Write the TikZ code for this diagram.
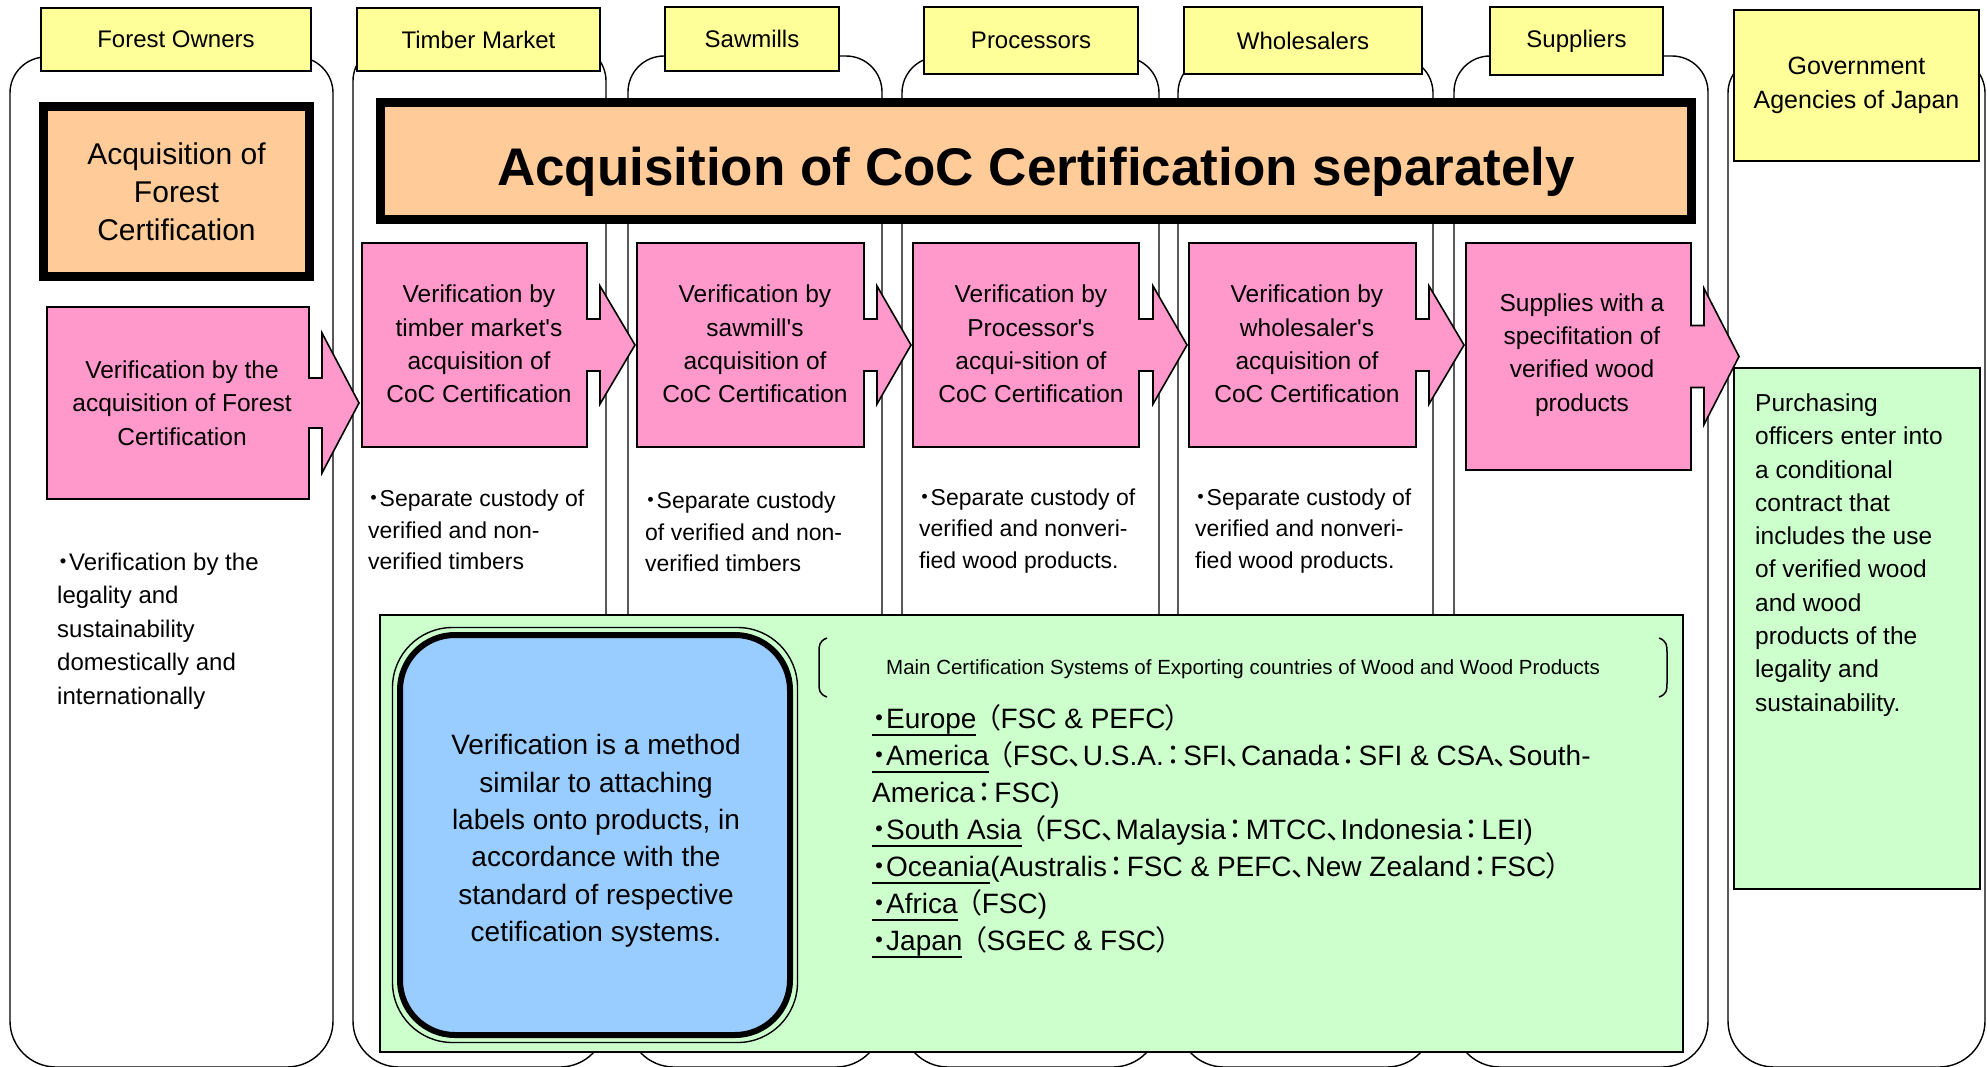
\documentclass[tikz,border=0pt]{standalone}
\usepackage{fontspec}
\setmainfont{Liberation Sans}
\newfontfamily\cjk[RawFeature=+palt]{Noto Sans CJK JP}
\usetikzlibrary{calc}
\definecolor{coYellow}{HTML}{FFFF99}
\definecolor{coPeach}{HTML}{FFCC99}
\definecolor{coPink}{HTML}{FF99CC}
\definecolor{coMint}{HTML}{CCFFCC}
\definecolor{coSky}{HTML}{99CCFF}

% Japanese punctuation, proportional like the original
\newcommand{\jdot}{{\cjk ・}}
\newcommand{\jlp}{\hspace{0.36em}{\cjk （}}
\newcommand{\jrp}{{\cjk ）}}
\newcommand{\jcm}{{\cjk 、}}
\newcommand{\jco}{\hspace{0.1em}{\cjk ：}\hspace{0.1em}}
\newcommand{\regn}[1]{\setbox0\hbox{#1}\rlap{\rule[-7.5pt]{\wd0}{1.8pt}}\box0}

\begin{document}
\begin{tikzpicture}[
  x=1pt,y=-1pt,
  lane/.style={draw=black, line width=1.4pt, fill=white},
  header/.style={draw=black, line width=1.6pt, fill=coYellow, inner sep=0pt,
                 font=\fontsize{24}{30}\selectfont, align=center},
  certbox/.style={draw=black, line width=9pt, fill=coPeach, inner sep=0pt,
                  align=center},
  callout/.style={draw=black, line width=1.6pt, fill=coPink},
  pinktext/.style={font=\fontsize{24.5}{33.3}\selectfont, align=center},
  note/.style={anchor=west, inner sep=0pt, align=left},
  greenbox/.style={draw=black, line width=1.8pt, fill=coMint, inner sep=0pt},
]
  \path[use as bounding box] (0,0) rectangle (1987,1066);
  \clip (0,0) rectangle (1987,1066);

  % Lanes: one rounded column per actor of the chain.
  \foreach \l/\r/\t in {10/333/57,353/606/45,628/882/56,902/1159/57,
                        1178/1433/57,1454/1708/56,1728/1985/57} {
    \draw[lane] (\l,600) [rounded corners=36pt] -- (\l,\t) -- (\r,\t) --
      (\r,600) [rounded corners=46pt] -- (\r,1067) -- (\l,1067) -- cycle;
  }

  \foreach \nm/\x/\y/\w/\h/\txt in {owners/176/39.5/270/63/Forest Owners,
      market/478.5/39.5/243/63/Timber Market,mills/752/39/174/64/Sawmills,
      procs/1031/40.5/214/67/Processors,whole/1303/40.5/238/67/Wholesalers,
      supp/1576.5/41/173/68/Suppliers} {
    \node[header, minimum width=\w pt, minimum height=\h pt] (\nm) at (\x,\y) {\txt};
  }
  \node[header, minimum width=245pt, minimum height=151pt,
        font=\fontsize{25}{34}\selectfont] (gov) at (1856.5,85.5)
    {Government\\Agencies of Japan};

  % Certification banners
  \node[certbox, minimum width=1311pt, minimum height=117pt,
        font=\fontsize{53}{60}\selectfont\bfseries] (coc) at (1036,161)
    {\raisebox{-24pt}[0pt][0pt]{Acquisition of CoC Certification separately}};
  \node[certbox, minimum width=266pt, minimum height=170pt,
        font=\fontsize{30}{38}\selectfont] (forestcert) at (176.5,191.5)
    {Acquisition of\\Forest\\Certification};

  % Verification steps: boxes with an arrow on the right side.
  \foreach \xa/\xb/\ya/\yb/\sa/\ha/\xs/\xt in {47/309/307/499/25/70/322/359,
      362/587/243/447/26/59/600/635,637/864/243/447/26/59/877/911,
      913/1139/243/447/26/59/1153/1187,1189/1416/243/447/26/59/1429/1464,
      1466/1691/243/470/31/68/1704/1739} {
    \pgfmathsetmacro{\ym}{(\ya+\yb)/2}
    \draw[callout] (\xa,\ya) -- (\xb,\ya) -- (\xb,\ym-\sa) -- (\xs,\ym-\sa) --
      (\xs,\ym-\ha) -- (\xt,\ym) -- (\xs,\ym+\ha) -- (\xs,\ym+\sa) --
      (\xb,\ym+\sa) -- (\xb,\yb) -- (\xa,\yb) -- cycle;
  }
  \node[pinktext] (vfor) at (182,403)
    {Verification by the\\acquisition of Forest\\Certification};
  \node[pinktext] (vmarket) at (479,344)
    {Verification by\\timber market\textquotesingle s\\acquisition of\\CoC Certification};
  \node[pinktext] (vmill) at (755,344)
    {Verification by\\sawmill\textquotesingle s\\acquisition of\\CoC Certification};
  \node[pinktext] (vproc) at (1031,344)
    {Verification by\\Processor\textquotesingle s\\acqui-sition of\\CoC Certification};
  \node[pinktext] (vwhole) at (1307,344)
    {Verification by\\wholesaler\textquotesingle s\\acquisition of\\CoC Certification};
  \node[pinktext] (vsupp) at (1582,355)
    {Supplies with a\\specifitation of\\verified wood\\products};

  % Notes under the steps
  \node[note, font=\fontsize{24}{33.4}\selectfont] (nfor) at (57,631)
    {\jdot Verification by the\\legality and\\sustainability\\domestically and\\internationally};
  \node[note, font=\fontsize{23}{31.5}\selectfont] (nmarket) at (368,530)
    {\jdot Separate custody of\\verified and non-\\verified timbers};
  \node[note, font=\fontsize{23}{31.5}\selectfont] (nmill) at (645,532)
    {\jdot Separate custody\\of verified and non-\\verified timbers};
  \node[note, font=\fontsize{23}{31.5}\selectfont] (nproc) at (919,531)
    {\jdot Separate custody of\\verified and nonveri-\\fied wood products.};
  \node[note, font=\fontsize{23}{31.5}\selectfont] (nwhole) at (1195,531)
    {\jdot Separate custody of\\verified and nonveri-\\fied wood products.};

  % Certification systems panel
  \node[greenbox, minimum width=1303pt, minimum height=437pt] (systems)
    at (1031.5,833.5) {};
  \node[draw=black, line width=6pt, fill=coSky, rounded corners=55pt,
        minimum width=390pt, minimum height=400pt] (method) at (595,835) {};
  \draw[line width=1.4pt, rounded corners=60pt]
    ($(method.north west)+(-4.5,-4.5)$) rectangle ($(method.south east)+(4.5,4.5)$);
  \node[align=center, font=\fontsize{28}{37.4}\selectfont] (methodtext) at (596,841)
    {Verification is a method\\similar to attaching\\labels onto products, in\\accordance with the\\standard of respective\\cetification systems.};

  \node[font=\fontsize{20.5}{24}\selectfont] (mainsys) at (1243,669)
    {Main Certification Systems of Exporting countries of Wood and Wood Products};
  \draw[line width=1.5pt] (827,638) .. controls (819,641) and (819,646) .. (819,652)
    -- (819,683) .. controls (819,690) and (819,694) .. (827,697);
  \draw[line width=1.5pt] (1659,638) .. controls (1667,641) and (1667,646) .. (1667,652)
    -- (1667,683) .. controls (1667,690) and (1667,694) .. (1659,697);

  \node[note, font=\fontsize{28}{37}\selectfont] (regions) at (872,831)
    {\regn{\jdot Europe}\jlp FSC \& PEFC\jrp\\
     \regn{\jdot America}\jlp FSC\jcm U.S.A.\jco SFI\jcm Canada\jco SFI \& CSA\jcm South-\\
     America\jco FSC)\\
     \regn{\jdot South Asia}\jlp FSC\jcm Malaysia\jco MTCC\jcm Indonesia\jco LEI)\\
     \regn{\jdot Oceania}(Australis\jco FSC \& PEFC\jcm New Zealand\jco FSC\jrp\\
     \regn{\jdot Africa}\jlp FSC)\\
     \regn{\jdot Japan}\jlp SGEC \& FSC\jrp};

  % Government purchasing
  \node[greenbox, minimum width=246pt, minimum height=521pt] (govbox)
    at (1857,628.5) {};
  \node[note, font=\fontsize{24.5}{33.3}\selectfont] (purchase) at (1755,555)
    {Purchasing\\officers enter into\\a conditional\\contract that\\includes the use\\of verified wood\\and wood\\products of the\\legality and\\sustainability.};
\end{tikzpicture}
\end{document}
